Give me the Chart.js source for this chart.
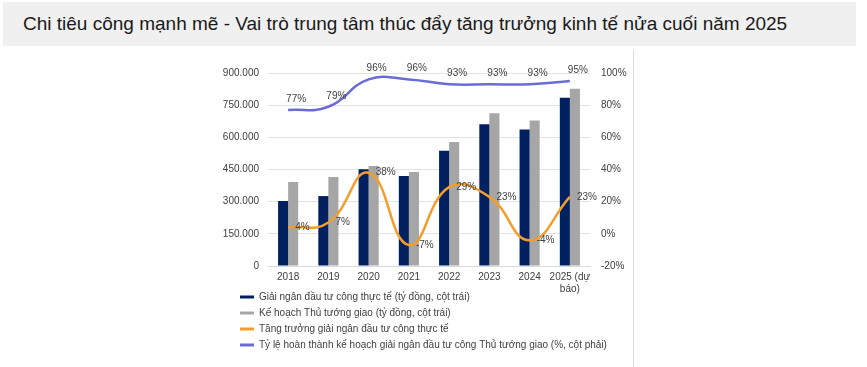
<!DOCTYPE html>
<html>
<head>
<meta charset="utf-8">
<script src="https://cdn.jsdelivr.net/npm/chart.js@4.4.1/dist/chart.umd.min.js"></script>
<style>
  body { margin: 0; background: #fff; width: 867px; height: 367px; overflow: hidden; position: relative; font-family: "Liberation Sans", Arial, sans-serif; }
  #title { position: absolute; left: 3px; top: 2px; width: 853px; height: 44px; background: #f0f0f0;
           font-size: 19px; line-height: 44px; color: #1a1a1a; padding-left: 20px; box-sizing: border-box; }
  #wrap { position: absolute; left: 210px; top: 50px; width: 422px; height: 320px; }
  #edge { position: absolute; left: 633px; top: 50px; width: 1px; height: 317px; background: #dcdcdc; }
</style>
</head>
<body>
<div id="title">Chi tiêu công mạnh mẽ - Vai trò trung tâm thúc đẩy tăng trưởng kinh tế nửa cuối năm 2025</div>
<div id="wrap"><canvas id="chart"></canvas></div>
<div id="edge"></div>
<script>
const years = ['2018', '2019', '2020', '2021', '2022', '2023', '2024', ['2025 (dự', 'báo)']];
const disbursedActual = [303000, 326000, 451000, 420000, 538000, 661000, 636000, 785000];
const planAssigned = [392000, 415000, 466000, 438000, 578000, 712000, 679000, 827000];
const growthPct = [4, 7, 38, -7, 29, 23, -4, 23];
const completionPct = [77, 79, 96, 96, 93, 93, 93, 95];

const labelColor = '#404040';
const font = { family: '"Liberation Sans", Arial, sans-serif', size: 10 };

// draws the % labels next to the two line series
const lineLabels = {
  id: 'lineLabels',
  afterDatasetsDraw(chart) {
    const ctx = chart.ctx;
    ctx.save();
    ctx.font = '10px "Liberation Sans", Arial, sans-serif';
    ctx.fillStyle = labelColor;
    ctx.textBaseline = 'middle';
    chart.getDatasetMeta(2).data.forEach((pt, i) => {
      ctx.textAlign = 'left';
      ctx.fillText(growthPct[i] + '%', pt.x + 7, pt.y);
    });
    chart.getDatasetMeta(3).data.forEach((pt, i) => {
      ctx.textAlign = 'center';
      ctx.fillText(completionPct[i] + '%', pt.x + 8, pt.y - 11);
    });
    ctx.restore();
  }
};

// legend sits indented under the plot and tucked up under the x labels
const legendShift = {
  id: 'legendShift',
  afterLayout(chart) {
    const lg = chart.legend;
    lg.left += 24;
    lg.top -= 10;
    lg.bottom -= 10;
  }
};

new Chart(document.getElementById('chart'), {
  data: {
    labels: years,
    datasets: [{
      type: 'bar',
      label: 'Giải ngân đầu tư công thực tế (tỷ đồng, cột trái)',
      data: disbursedActual,
      backgroundColor: '#002060',
      yAxisID: 'y',
      barPercentage: 1,
      categoryPercentage: 0.5,
      order: 2
    }, {
      type: 'bar',
      label: 'Kế hoạch Thủ tướng giao (tỷ đồng, cột trái)',
      data: planAssigned,
      backgroundColor: '#a6a6a6',
      yAxisID: 'y',
      barPercentage: 1,
      categoryPercentage: 0.5,
      order: 2
    }, {
      type: 'line',
      label: 'Tăng trưởng giải ngân đầu tư công thực tế',
      data: growthPct,
      borderColor: '#f59d2a',
      backgroundColor: '#f59d2a',
      borderWidth: 2.5,
      pointRadius: 0,
      tension: 0.45,
      yAxisID: 'y1',
      order: 1
    }, {
      type: 'line',
      label: 'Tỷ lệ hoàn thành kế hoạch giải ngân đầu tư công Thủ tướng giao (%, cột phải)',
      data: completionPct,
      borderColor: '#6b6bd6',
      backgroundColor: '#6b6bd6',
      borderWidth: 2.5,
      pointRadius: 0,
      tension: 0.45,
      yAxisID: 'y1',
      order: 0
    }]
  },
  options: {
    responsive: true,
    maintainAspectRatio: false,
    animation: false,
    layout: { padding: { top: 23, left: 0, right: 0, bottom: 0 } },
    plugins: {
      tooltip: { enabled: false },
      legend: {
        position: 'bottom',
        align: 'start',
        labels: {
          color: labelColor,
          font: font,
          boxWidth: 14,
          boxHeight: 3,
          padding: 6,
          sort: (a, b) => a.datasetIndex - b.datasetIndex,
          generateLabels(chart) {
            return chart.data.datasets.map((ds, i) => ({
              text: ds.label,
              fillStyle: ds.backgroundColor,
              strokeStyle: ds.backgroundColor,
              lineWidth: 0,
              fontColor: labelColor,
              datasetIndex: i
            }));
          }
        }
      }
    },
    scales: {
      x: {
        grid: { display: false, drawTicks: false },
        border: { display: true, color: '#d9d9d9' },
        ticks: { color: labelColor, font: font, padding: 5, maxRotation: 0, autoSkip: false },
        afterFit(scale) { scale.height = 30; }
      },
      y: {
        position: 'left',
        min: 0,
        max: 900000,
        grid: { color: '#e3e3e3', drawTicks: false },
        border: { display: false },
        ticks: {
          stepSize: 150000,
          color: labelColor,
          font: font,
          padding: 9,
          callback: v => v.toString().replace(/\B(?=(\d{3})+(?!\d))/g, '.')
        },
        afterFit(scale) { scale.width = 58; }
      },
      y1: {
        position: 'right',
        min: -20,
        max: 100,
        grid: { drawOnChartArea: false, drawTicks: false },
        border: { display: false },
        ticks: { stepSize: 20, color: labelColor, font: font, padding: 11, callback: v => v + '%' },
        afterFit(scale) { scale.width = 42; }
      }
    }
  },
  plugins: [lineLabels, legendShift]
});
</script>
</body>
</html>
